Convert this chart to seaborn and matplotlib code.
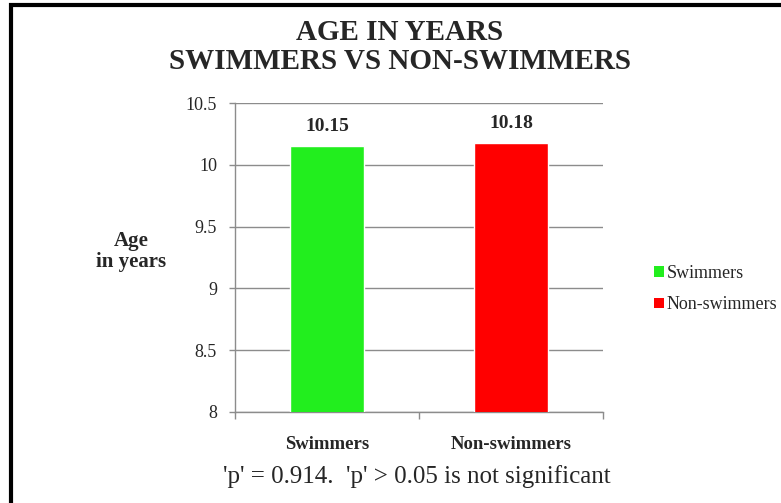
import matplotlib
matplotlib.use("Agg")
import matplotlib.pyplot as plt
from matplotlib.lines import Line2D
from matplotlib.patches import Patch
import seaborn as sns
import pandas as pd

groups = ["Swimmers", "Non-swimmers"]
mean_age = [10.15, 10.18]
bar_colors = ["#22ee1e", "#ff0000"]
y_ticks = [8, 8.5, 9, 9.5, 10, 10.5]
y_tick_labels = ["8", "8.5", "9", "9.5", "10", "10.5"]
title_text = "AGE IN YEARS\nSWIMMERS VS NON-SWIMMERS"
y_label = "Age\nin years"
note_text = "'p' = 0.914.  'p' > 0.05 is not significant"

sns.set_theme(style="white")
plt.rcParams["font.family"] = ["Liberation Serif", "DejaVu Serif"]

df = pd.DataFrame({"group": groups, "age": mean_age})

fig = plt.figure(figsize=(7.81, 5.03), dpi=100)
ax = fig.add_axes([0.301, 0.181, 0.471, 0.614])

sns.barplot(data=df, x="group", y="age", hue="group", palette=bar_colors,
            width=0.4, saturation=1, legend=False, ax=ax, zorder=3)

ax.set_ylim(8, 10.5)
ax.set_yticks(y_ticks)
ax.set_yticklabels(y_tick_labels, fontsize=13)
ax.set_xlim(-0.5, 1.5)
ax.yaxis.grid(True, color="#8c8c8c", linewidth=1, zorder=0)
ax.set_axisbelow(True)

for side in ["top", "right"]:
    ax.spines[side].set_visible(False)
for side in ["left", "bottom"]:
    ax.spines[side].set_color("#8c8c8c")
    ax.spines[side].set_linewidth(1)

ax.tick_params(axis="y", which="major", left=True, length=4, width=1,
               color="#8c8c8c", pad=9)
ax.set_xticks([0, 1])
ax.set_xticklabels(groups, fontsize=13.5, fontweight="bold")
ax.tick_params(axis="x", which="major", bottom=False, pad=11)
ax.set_xticks([-0.5, 0.5, 1.5], minor=True)
ax.tick_params(axis="x", which="minor", bottom=True, length=5, width=1,
               color="#8c8c8c")
ax.set_xlabel("")
ax.set_ylabel("")

for container in ax.containers:
    ax.bar_label(container, fmt="%.2f", padding=8, fontsize=14,
                 fontweight="bold")

fig.text(0.168, 0.50, y_label, ha="center", va="center", fontsize=15,
         fontweight="bold", linespacing=1.05)
fig.text(0.512, 0.907, title_text, ha="center", va="center", fontsize=21,
         fontweight="bold", linespacing=1.1)
fig.text(0.534, 0.052, note_text, ha="center", va="center", fontsize=18)

handles = [Patch(facecolor=c, edgecolor="none") for c in bar_colors]
fig.legend(handles, groups, loc="center left", bbox_to_anchor=(0.826, 0.425),
           frameon=False, fontsize=13, handlelength=0.55, handleheight=0.55,
           handletextpad=0.15, labelspacing=0.8, borderpad=0)

# frame around the chart area
fig.add_artist(Line2D([0.0135, 0.0135, 1.0], [0.0, 0.990, 0.990],
                      color="black", linewidth=3, solid_joinstyle="miter",
                      transform=fig.transFigure))

fig.savefig("out.png", dpi=100)
